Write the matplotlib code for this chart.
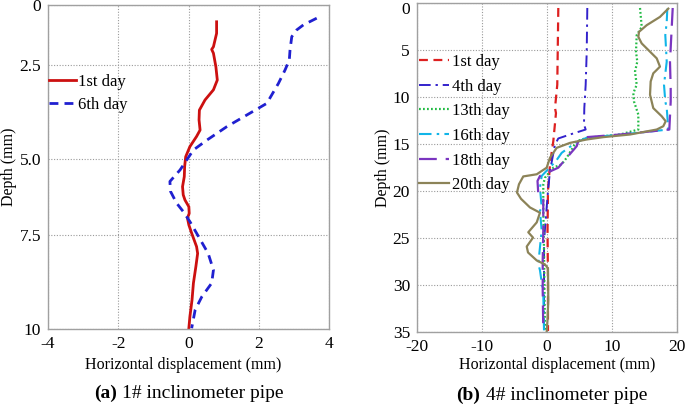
import numpy as np
import matplotlib
matplotlib.use("Agg")
import matplotlib.pyplot as plt
import matplotlib.transforms as mtrans

plt.rcParams['font.family'] = ['Liberation Serif', 'DejaVu Serif']
plt.rcParams['axes.unicode_minus'] = False

# ---------------- Panel (a): 1# inclinometer pipe ----------------
a_day1_x = [0.80, 0.80, 0.71, 0.66, 0.71, 0.78, 0.82, 0.71, 0.47, 0.31, 0.30, 0.33, 0.23, 0.04,
            -0.08, -0.11, -0.12, -0.17, -0.15, -0.10, 0.01, 0.02, -0.03, 0.01, 0.09, 0.23, 0.26,
            0.21, 0.14, 0.10, 0.04, 0.01]
a_day1_y = [0.70, 1.18, 1.74, 1.85, 2.01, 2.55, 2.90, 3.16, 3.43, 3.70, 3.96, 4.23, 4.40, 4.67,
            4.94, 5.25, 5.58, 5.91, 6.18, 6.35, 6.57, 6.79, 6.94, 7.17, 7.44, 7.81, 7.99,
            8.34, 8.78, 9.23, 9.67, 9.98]
a_day6_x = [3.65, 3.27, 3.08, 2.94, 2.89, 2.87, 2.75, 2.56, 2.23, 1.66, 1.09, 0.52, 0.14, -0.05,
            -0.24, -0.53, -0.51, -0.34, -0.15, 0.04, 0.23, 0.56, 0.71, 0.66, 0.38, 0.19, 0.09]
a_day6_y = [0.55, 0.83, 1.04, 1.32, 1.88, 2.29, 2.63, 2.99, 3.52, 3.83, 4.14, 4.50, 4.76, 5.03,
            5.36, 5.74, 6.07, 6.45, 6.73, 7.06, 7.44, 7.99, 8.43, 8.78, 9.14, 9.49, 9.98]
a_xticks = [-4, -2, 0, 2, 4]
a_yticks = [0, 2.5, 5.0, 7.5, 10]
a_ytick_labels = ['0', '2.5', '5.0', '7.5', '10']
# position of each depth tick along the drawn axis (the original axis is not evenly spaced)
a_ytick_pos = [0, 60, 154, 230, 324]

# ---------------- Panel (b): 4# inclinometer pipe ----------------
b_d1_x = [1.74, 1.58, 1.23, 1.38, 0.97, 0.46, 0.15, 0.08, 0.15, 0.15]
b_d1_y = [0.53, 8.70, 11.18, 11.71, 14.70, 17.16, 19.98, 24.21, 29.50, 34.89]
b_d4_x = [6.20, 6.11, 5.95, 5.74, 5.69, 5.95, 3.54, 1.74, 1.23, 0.46, 0.20, -0.05, -0.46, -0.46]
b_d4_y = [0.53, 5.18, 8.70, 11.18, 12.93, 13.46, 13.99, 14.41, 15.05, 17.87, 19.64, 21.75, 25.34, 34.89]
b_d13_x = [14.31, 14.57, 13.80, 13.69, 13.89, 13.54, 13.80, 13.28, 13.38, 14.05, 14.05, 11.23, 6.11,
           4.57, 3.03, 2.26, 0.97, -0.31, -0.57, -0.57, -0.46, -0.31]
b_d13_y = [0.53, 2.54, 3.42, 5.18, 6.24, 7.30, 8.70, 9.59, 10.47, 11.87, 13.46, 13.99, 14.35,
           14.70, 16.46, 17.16, 17.52, 18.58, 19.28, 21.75, 26.33, 34.89]
b_d16_x = [18.51, 18.42, 18.20, 18.42, 18.00, 18.20, 18.42, 18.57, 18.66, 11.23, 6.11, 4.31, 2.26,
           1.38, -0.82, -1.08, -0.82, -1.08, -0.82, -1.34, -1.08, -0.57, -0.46]
b_d16_y = [0.60, 2.01, 3.42, 6.24, 8.70, 10.47, 11.18, 12.58, 13.46, 14.01, 14.33, 14.91, 15.94,
           16.81, 18.40, 19.64, 21.75, 22.10, 24.21, 27.74, 28.44, 30.91, 34.89]
b_d18_x = [19.34, 19.18, 18.92, 19.03, 19.03, 18.82, 11.23, 6.11, 4.82, 4.57, 1.74, -1.08, -1.46,
           -1.34, -0.57, -0.57, -0.66, -0.66, -0.57]
b_d18_y = [0.53, 2.72, 6.24, 9.06, 10.47, 13.46, 13.99, 14.27, 14.70, 15.23, 17.52, 18.40, 18.93,
           20.30, 20.73, 24.21, 27.39, 30.56, 34.89]
b_d20_x = [18.66, 17.38, 15.34, 14.15, 14.05, 14.57, 15.85, 16.88, 17.38, 16.88, 16.35, 15.95, 15.85,
           16.35, 17.65, 18.26, 17.89, 16.88, 12.77, 8.66, 6.11, 3.54, 1.49, 0.46, -0.05, -1.58,
           -3.65, -4.31, -4.62, -4.00, -2.62, -1.08, -1.58, -2.88, -2.15, -3.12, -2.92, -1.58,
           -0.31, 0.15, 0.20, 0.08, -0.05]
b_d20_y = [0.60, 1.48, 2.36, 3.07, 3.60, 4.30, 5.18, 5.89, 6.77, 7.12, 7.48, 8.35, 9.76,
           11.18, 12.05, 12.58, 13.11, 13.46, 13.99, 14.27, 14.52, 14.88, 15.41, 16.46, 17.52, 18.22,
           18.45, 19.28, 20.16, 20.83, 21.75, 22.31, 23.34, 24.39, 24.96, 25.91, 26.54, 27.39,
           27.81, 28.23, 31.62, 33.73, 34.97]
b_xticks = [-20, -10, 0, 10, 20]
b_yticks = [0, 5, 10, 15, 20, 25, 30, 35]

GRID = '#9a9a9a'
SPINE = '#a0a0a0'
TICK_FS = 12.5
LABEL_FS = 11.5
LEG_FS = 12


def style(ax):
    for s in ax.spines.values():
        s.set_color(SPINE)
        s.set_linewidth(1.0)
    ax.tick_params(length=0, labelsize=TICK_FS, pad=5)
    ax.grid(True, linestyle=(0, (1, 1.5)), color=GRID, linewidth=0.8)
    ax.set_axisbelow(True)


def make_pw(src, dst):
    src = np.asarray(src, float)
    dst = np.asarray(dst, float)

    def f(v):
        v = np.asarray(v, float)
        out = np.interp(v, src, dst)
        lo = v < src[0]
        hi = v > src[-1]
        s0 = (dst[1] - dst[0]) / (src[1] - src[0])
        s1 = (dst[-1] - dst[-2]) / (src[-1] - src[-2])
        out = np.where(lo, dst[0] + (v - src[0]) * s0, out)
        out = np.where(hi, dst[-1] + (v - src[-1]) * s1, out)
        return out
    return f


fig = plt.figure(figsize=(6.85, 4.07), dpi=100)
W, H = 685, 407

# ---- left panel
axa = fig.add_axes([48 / W, 1 - 329 / H, 281 / W, 324 / H])
fwd = make_pw(a_yticks, a_ytick_pos)
inv = make_pw(a_ytick_pos, a_yticks)
axa.set_yscale('function', functions=(fwd, inv))
axa.plot(a_day1_x, a_day1_y, color='#cc1010', lw=2.0, ls='-', label='1st day')
axa.plot(a_day6_x, a_day6_y, color='#2020d0', lw=2.0, ls=(0, (3.2, 2.2)), label='6th day')
axa.set_xlim(-4, 4)
axa.set_ylim(10, 0)
axa.set_xticks(a_xticks)
axa.set_xticklabels([str(v) for v in a_xticks])
axa.set_yticks(a_yticks)
axa.set_yticklabels(a_ytick_labels)
style(axa)
axa.set_xlabel('Horizontal displacement (mm)', fontsize=LABEL_FS)
axa.xaxis.set_label_coords((183 - 48) / 281, (329 - 357) / 324)
axa.set_ylabel('Depth (mm)', fontsize=LABEL_FS)
axa.yaxis.set_label_coords((17 - 48) / 281, 0.5)
axa.legend(loc='upper left', bbox_to_anchor=(0.005, (329 - 74) / 324), frameon=False,
           fontsize=LEG_FS, handlelength=1.6, handletextpad=0.1, labelspacing=0.4,
           borderpad=0.0, borderaxespad=0.0)

# ---- right panel
axb = fig.add_axes([417 / W, 1 - 332 / H, 260 / W, 329 / H])
axb.plot(b_d1_x, b_d1_y, color='#dd2020', lw=1.6, ls=(0, (4, 2.5)), label='1st day')
axb.plot(b_d4_x, b_d4_y, color='#3322cc', lw=1.4, ls=(0, (6, 2.5, 1.2, 2.5)), label='4th day')
axb.plot(b_d13_x, b_d13_y, color='#22bb44', lw=1.6, ls=(0, (0.8, 1.0)), label='13th day')
axb.plot(b_d16_x, b_d16_y, color='#11b5e8', lw=1.5, ls=(0, (6, 2.5, 1.2, 2.5)), label='16th day')
axb.plot(b_d18_x, b_d18_y, color='#7a35c0', lw=1.6, ls=(0, (8, 4)), label='18th day')
axb.plot(b_d20_x, b_d20_y, color='#8c8358', lw=1.6, ls='-', label='20th day')
axb.set_xlim(-20, 20)
axb.set_ylim(35, 0)
axb.set_xticks(b_xticks)
axb.set_yticks(b_yticks)
style(axb)
axb.set_xlabel('Horizontal displacement (mm)', fontsize=LABEL_FS)
axb.xaxis.set_label_coords((557 - 417) / 260, (332 - 357) / 329)
axb.set_ylabel('Depth (mm)', fontsize=LABEL_FS)
axb.yaxis.set_label_coords((391 - 417) / 260, 0.5)
axb.legend(loc='upper left', bbox_to_anchor=(0.008, (332 - 54) / 329), frameon=False,
           fontsize=LEG_FS, handlelength=1.8, handletextpad=0.15, labelspacing=0.52,
           borderpad=0.0, borderaxespad=0.0)

# keep the top "0" label of panel (b) inside the figure, as in the original
fig.canvas.draw()
lbl0 = axb.get_yticklabels()[0]
lbl0.set_transform(lbl0.get_transform() + mtrans.ScaledTranslation(0, -5 / 100, fig.dpi_scale_trans))

# ---- captions
fig.text(117 / W, 1 - 393 / H, '(a)', fontsize=14, fontweight='bold', ha='right', va='center')
fig.text(122 / W, 1 - 393 / H, '1# inclinometer pipe', fontsize=14, ha='left', va='center')
fig.text(480 / W, 1 - 395 / H, '(b)', fontsize=14, fontweight='bold', ha='right', va='center')
fig.text(486 / W, 1 - 395 / H, '4# inclinometer pipe', fontsize=14, ha='left', va='center')

fig.savefig('out.png', dpi=100)
